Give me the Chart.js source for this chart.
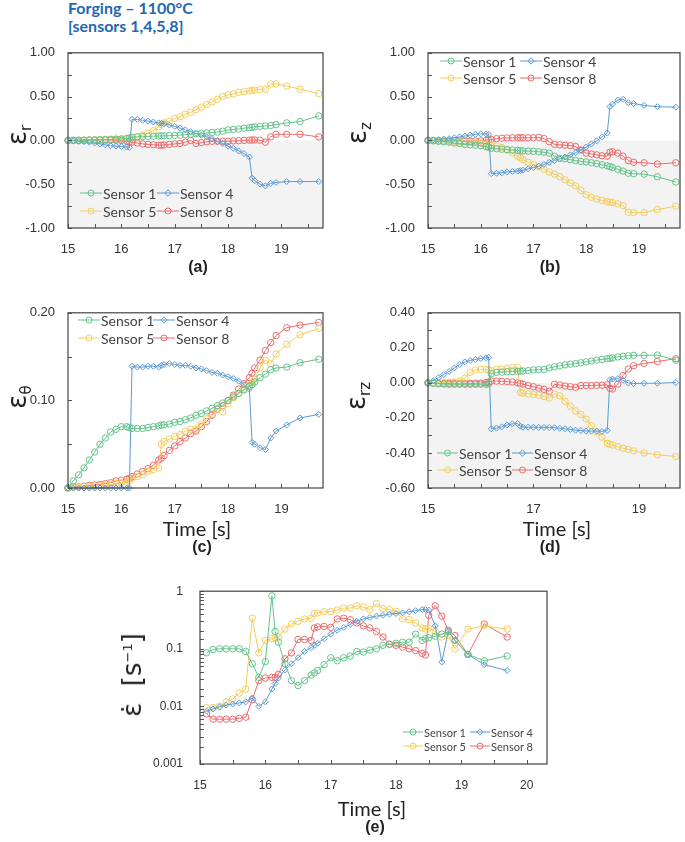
<!DOCTYPE html>
<html>
<head>
<meta charset="utf-8">
<script src="https://cdn.jsdelivr.net/npm/chart.js@4.4.1/dist/chart.umd.min.js"></script>
<style>
body { margin: 0; background: #fff; }
#fig { position: relative; width: 685px; height: 842px; overflow: hidden; font-family: Lato, sans-serif; color: #222; }
.box { position: absolute; }
.box canvas { display: block; }
.lbl { position: absolute; white-space: nowrap; transform: translate(-50%, -50%); }
.ytitle { position: absolute; white-space: nowrap; transform: translate(-50%, -50%) rotate(-90deg); font-size: 26px; font-family: "DejaVu Sans", sans-serif; }
.ytitle sub { font-size: 15px; vertical-align: -5px; }
.ytitle sup { font-size: 13px; vertical-align: 9px; }
.ptag { font: bold 16px "Liberation Sans", sans-serif; }
.time { font-size: 20px; }
.leg { position: absolute; white-space: nowrap; display: flex; align-items: center; color: #444; }
.leg svg { display: block; margin-right: 1px; }
#title { position: absolute; left: 68px; top: -1px; font: bold 16px Lato, sans-serif; line-height: 18px; color: #2468ad; }
</style>
</head>
<body>
<div id="fig">
  <div id="title">Forging – 1100°C<br>[sensors 1,4,5,8]</div>
</div>
<script>
// time stamps shared by every series [s]
const time = [15.0, 15.1, 15.2, 15.3, 15.4, 15.5, 15.6, 15.7, 15.8, 15.9,
  16.0, 16.1, 16.15, 16.2, 16.3, 16.4, 16.5, 16.6, 16.7, 16.75,
  16.8, 16.9, 17.0, 17.1, 17.2, 17.3, 17.4, 17.5, 17.6, 17.7,
  17.8, 17.9, 18.0, 18.1, 18.2, 18.3, 18.4, 18.45, 18.5, 18.6,
  18.7, 18.8, 18.9, 19.1, 19.35, 19.7];

const sensors = ['Sensor 1', 'Sensor 4', 'Sensor 5', 'Sensor 8'];

// (a) eps_r
const er1 = [0, 0.001, 0.002, 0.003, 0.004, 0.005, 0.007, 0.009, 0.011, 0.013,
  0.015, 0.02, 0.025, 0.035, 0.04, 0.043, 0.046, 0.048, 0.05, 0.051,
  0.052, 0.054, 0.057, 0.06, 0.065, 0.07, 0.075, 0.08, 0.085, 0.09,
  0.095, 0.105, 0.12, 0.125, 0.13, 0.14, 0.145, 0.15, 0.155, 0.16,
  0.165, 0.17, 0.18, 0.2, 0.215, 0.28];
const er4 = [0, -0.005, -0.01, -0.015, -0.02, -0.03, -0.04, -0.05, -0.06, -0.065,
  -0.07, -0.075, -0.08, 0.24, 0.24, 0.23, 0.22, 0.21, 0.2, 0.195,
  0.19, 0.175, 0.16, 0.14, 0.12, 0.1, 0.08, 0.06, 0.04, 0.02,
  -0.01, -0.035, -0.065, -0.09, -0.12, -0.15, -0.19, -0.43, -0.46, -0.5,
  -0.52, -0.49, -0.48, -0.47, -0.47, -0.47];
const er5 = [0, 0.001, 0.002, 0.003, 0.005, 0.007, 0.01, 0.012, 0.015, 0.018,
  0.02, 0.025, 0.028, 0.03, 0.04, 0.06, 0.08, 0.11, 0.155, 0.18,
  0.2, 0.22, 0.25, 0.27, 0.3, 0.32, 0.35, 0.38, 0.41, 0.44,
  0.47, 0.5, 0.52, 0.53, 0.55, 0.555, 0.565, 0.57, 0.575, 0.58,
  0.585, 0.645, 0.645, 0.62, 0.585, 0.535];
const er8 = [0, 0, -0.002, 0, 0.003, 0.005, 0.006, 0.005, 0.004, 0.002,
  0, -0.01, -0.015, -0.02, -0.03, -0.04, -0.045, -0.05, -0.055, -0.055,
  -0.052, -0.045, -0.04, -0.035, -0.02, 0, -0.035, -0.025, -0.015, -0.01,
  -0.01, -0.01, -0.01, -0.005, -0.003, 0, 0.003, 0.005, 0.005, 0.002,
  -0.02, 0.04, 0.07, 0.07, 0.07, 0.04];

// (b) eps_z
const ez1 = [0, -0.005, -0.01, -0.015, -0.02, -0.03, -0.035, -0.045, -0.05, -0.055,
  -0.06, -0.07, -0.08, -0.09, -0.095, -0.1, -0.105, -0.11, -0.115, -0.118,
  -0.12, -0.122, -0.125, -0.13, -0.135, -0.145, -0.18, -0.205, -0.21, -0.22,
  -0.23, -0.24, -0.245, -0.255, -0.265, -0.28, -0.29, -0.3, -0.31, -0.33,
  -0.35, -0.375, -0.38, -0.385, -0.415, -0.475];
const ez4 = [0, 0.005, 0.01, 0.015, 0.02, 0.03, 0.04, 0.05, 0.06, 0.07,
  0.075, 0.075, 0.07, -0.38, -0.375, -0.37, -0.36, -0.355, -0.35, -0.345,
  -0.34, -0.325, -0.31, -0.295, -0.275, -0.25, -0.23, -0.21, -0.19, -0.165,
  -0.14, -0.11, -0.075, -0.04, -0.005, 0.04, 0.085, 0.385, 0.415, 0.46,
  0.47, 0.43, 0.42, 0.4, 0.385, 0.38];
const ez5 = [0, -0.001, -0.002, -0.003, -0.005, -0.01, -0.012, -0.015, -0.02, -0.025,
  -0.03, -0.04, -0.05, -0.055, -0.065, -0.08, -0.11, -0.14, -0.18, -0.2,
  -0.22, -0.25, -0.275, -0.3, -0.33, -0.36, -0.385, -0.415, -0.45, -0.485,
  -0.52, -0.57, -0.62, -0.65, -0.67, -0.685, -0.7, -0.705, -0.71, -0.725,
  -0.745, -0.82, -0.825, -0.825, -0.79, -0.75];
const ez8 = [0, -0.002, -0.004, -0.005, -0.006, -0.006, -0.007, -0.008, -0.008, -0.006,
  -0.005, 0, 0.005, 0.01, 0.02, 0.025, 0.028, 0.03, 0.03, 0.03,
  0.03, 0.03, 0.03, 0.035, 0.02, -0.015, -0.045, -0.05, -0.055, -0.06,
  -0.07, -0.11, -0.145, -0.155, -0.165, -0.175, -0.18, -0.135, -0.13, -0.145,
  -0.18, -0.23, -0.25, -0.255, -0.27, -0.255];

// (c) eps_theta
const et1 = [0, 0.008, 0.015, 0.023, 0.032, 0.041, 0.05, 0.057, 0.064, 0.067,
  0.07, 0.07, 0.069, 0.068, 0.068, 0.068, 0.069, 0.07, 0.071, 0.072,
  0.072, 0.073, 0.075, 0.076, 0.078, 0.08, 0.083, 0.085, 0.088, 0.091,
  0.094, 0.097, 0.1, 0.104, 0.108, 0.112, 0.116, 0.118, 0.121, 0.126,
  0.13, 0.135, 0.137, 0.138, 0.143, 0.147];
const et4 = [0, 0, 0, 0, 0, 0, 0, 0, 0, 0,
  0, 0, 0, 0.139, 0.138, 0.138, 0.139, 0.139, 0.138, 0.14,
  0.141, 0.142, 0.141, 0.14, 0.14, 0.139, 0.137, 0.136, 0.134, 0.132,
  0.131, 0.129, 0.127, 0.125, 0.122, 0.118, 0.113, 0.052, 0.05, 0.046,
  0.044, 0.057, 0.065, 0.072, 0.08, 0.084];
const et5 = [0, 0.0005, 0.001, 0.0015, 0.002, 0.002, 0.003, 0.003, 0.004, 0.005,
  0.006, 0.007, 0.008, 0.011, 0.013, 0.015, 0.019, 0.021, 0.023, 0.05,
  0.053, 0.056, 0.059, 0.061, 0.065, 0.067, 0.067, 0.073, 0.079, 0.084,
  0.091, 0.087, 0.096, 0.103, 0.108, 0.113, 0.117, 0.12, 0.124, 0.137,
  0.146, 0.142, 0.153, 0.164, 0.175, 0.182];
const et8 = [0, 0.001, 0.0015, 0.002, 0.003, 0.0035, 0.004, 0.005, 0.006, 0.008,
  0.009, 0.01, 0.011, 0.013, 0.016, 0.019, 0.022, 0.026, 0.032, 0.034,
  0.037, 0.043, 0.048, 0.053, 0.057, 0.062, 0.065, 0.07, 0.076, 0.083,
  0.09, 0.094, 0.1, 0.106, 0.113, 0.119, 0.126, 0.131, 0.137, 0.146,
  0.157, 0.166, 0.174, 0.183, 0.186, 0.189];

// (d) eps_rz
const erz1 = [0, -0.003, -0.005, -0.007, -0.008, -0.008, -0.008, -0.008, -0.008, -0.008,
  -0.008, -0.008, -0.005, 0.052, 0.06, 0.061, 0.063, 0.064, 0.066, 0.067,
  0.068, 0.07, 0.074, 0.075, 0.077, 0.085, 0.092, 0.097, 0.103, 0.107,
  0.11, 0.115, 0.12, 0.125, 0.13, 0.134, 0.138, 0.14, 0.143, 0.148,
  0.152, 0.155, 0.157, 0.157, 0.159, 0.13];
const erz4 = [0, 0.012, 0.03, 0.048, 0.065, 0.085, 0.105, 0.12, 0.128, 0.134,
  0.139, 0.143, 0.146, -0.262, -0.258, -0.251, -0.24, -0.234, -0.232, -0.247,
  -0.253, -0.253, -0.253, -0.254, -0.254, -0.255, -0.256, -0.259, -0.262, -0.266,
  -0.27, -0.272, -0.275, -0.275, -0.275, -0.277, -0.271, 0.018, 0.022, 0.024,
  0.015, 0, -0.004, -0.002, -0.002, 0.002];
const erz5 = [0, 0.001, 0.002, 0.003, 0.004, 0.005, 0.01, 0.028, 0.06, 0.074,
  0.077, 0.077, 0.074, 0.07, 0.077, 0.079, 0.083, 0.087, 0.089, -0.055,
  -0.059, -0.063, -0.066, -0.07, -0.077, -0.087, -0.063, -0.074, -0.105, -0.133,
  -0.16, -0.18, -0.207, -0.244, -0.28, -0.31, -0.345, -0.35, -0.355, -0.364,
  -0.373, -0.38, -0.388, -0.4, -0.41, -0.42];
const erz8 = [0, -0.001, -0.002, -0.002, -0.002, -0.002, -0.002, -0.002, -0.002, -0.002,
  -0.001, 0.002, 0.005, 0.01, 0.01, 0.009, 0.007, 0.005, 0, -0.003,
  -0.007, -0.015, -0.022, -0.03, -0.037, -0.048, -0.008, -0.012, -0.018, -0.022,
  -0.026, -0.015, -0.015, -0.015, -0.014, -0.013, -0.011, -0.031, -0.035, -0.007,
  0.042, 0.079, 0.098, 0.111, 0.122, 0.138];

// (e) strain rate [1/s]
const rate1 = [null, 0.085, 0.097, 0.1, 0.1, 0.1, 0.1, 0.09, 0.055, 0.032,
  0.06, 0.83, 0.2, 0.13, 0.055, 0.028, 0.023, 0.028, 0.035, 0.038,
  0.042, 0.053, 0.07, 0.062, 0.07, 0.075, 0.09, 0.088, 0.095, 0.1,
  0.115, 0.12, 0.125, 0.13, 0.13, 0.18, 0.14, 0.15, 0.155, 0.165,
  0.18, 0.2, 0.14, 0.08, 0.062, 0.075];
const rate4 = [null, 0.0083, 0.009, 0.0098, 0.0105, 0.011, 0.0115, 0.012, 0.014, 0.01,
  0.012, 0.02, 0.025, 0.031, 0.043, 0.055, 0.07, 0.09, 0.105, 0.115,
  0.125, 0.15, 0.18, 0.21, 0.235, 0.265, 0.3, 0.33, 0.35, 0.37,
  0.38, 0.4, 0.41, 0.42, 0.44, 0.46, 0.48, 0.48, 0.47, 0.25,
  0.059, 0.2, 0.14, 0.08, 0.053, 0.042];
const rate5 = [null, 0.0095, 0.0095, 0.01, 0.012, 0.0135, 0.017, 0.02, 0.34, 0.085,
  0.14, 0.15, 0.155, 0.16, 0.22, 0.27, 0.3, 0.33, 0.34, 0.41,
  0.42, 0.44, 0.44, 0.47, 0.51, 0.51, 0.56, 0.53, 0.48, 0.61,
  0.5, 0.48, 0.45, 0.33, 0.32, 0.28, 0.23, 0.22, 0.23, 0.2,
  0.16, 0.17, 0.1, 0.22, 0.25, 0.22];
const rate8 = [null, 0.0074, 0.006, 0.006, 0.006, 0.006, 0.0062, 0.0065, 0.013, 0.028,
  0.031, 0.032, 0.032, 0.036, 0.067, 0.085, 0.145, 0.145, 0.14, 0.23,
  0.24, 0.245, 0.235, 0.33, 0.34, 0.32, 0.28, 0.25, 0.23, 0.2,
  0.16, 0.12, 0.115, 0.107, 0.1, 0.093, 0.083, 0.078, 0.38, 0.56,
  0.37, 0.21, 0.17, 0.08, 0.27, 0.16];

const colors = ['#63c48b', '#5b9bd5', '#f5cd5c', '#ee6b6b'];
const markers = ['circle', 'rectRot', 'circle', 'circle'];

const fig = document.getElementById('fig');

// shading below zero, frame and inward ticks
const frame = {
  id: 'frame',
  beforeDatasetsDraw(chart, args, o) {
    if (!o.shade) return;
    const { ctx, chartArea: a, scales } = chart;
    const y0 = scales.y.getPixelForValue(0);
    ctx.save();
    ctx.fillStyle = '#f3f3f3';
    ctx.fillRect(a.left, y0, a.right - a.left, a.bottom - y0);
    ctx.restore();
  },
  afterDraw(chart) {
    const { ctx, chartArea: a, scales } = chart;
    ctx.save();
    ctx.strokeStyle = '#555';
    ctx.lineWidth = 1;
    ctx.beginPath();
    scales.x.ticks.forEach(t => {
      const px = Math.round(scales.x.getPixelForValue(t.value)) + 0.5;
      ctx.moveTo(px, a.bottom); ctx.lineTo(px, a.bottom - 4);
    });
    scales.y.ticks.forEach(t => {
      const py = Math.round(scales.y.getPixelForValue(t.value)) + 0.5;
      ctx.moveTo(a.left, py); ctx.lineTo(a.left + 4, py);
    });
    ctx.stroke();
    ctx.strokeStyle = '#444';
    ctx.lineWidth = 1.2;
    ctx.strokeRect(a.left, a.top, a.right - a.left, a.bottom - a.top);
    ctx.restore();
  }
};

function series(arrs) {
  return arrs.map((a, k) => ({
    label: sensors[k],
    data: time.map((t, i) => ({ x: t, y: a[i] })),
    borderColor: colors[k],
    backgroundColor: colors[k],
    pointStyle: markers[k],
    pointRadius: k === 1 ? 3 : 3.2,
    pointBorderWidth: 1,
    pointBackgroundColor: 'rgba(255,255,255,0)',
    borderWidth: 1,
    tension: 0,
    clip: false
  }));
}

function panel(p) {
  const box = document.createElement('div');
  box.className = 'box';
  Object.assign(box.style, { left: p.left + 'px', top: p.top + 'px', width: p.w + 'px', height: p.h + 'px' });
  const cv = document.createElement('canvas');
  box.appendChild(cv);
  fig.appendChild(box);
  const tickFont = { family: 'Liberation Sans', size: p.fs || 13 };
  new Chart(cv, {
    type: 'line',
    data: { datasets: series(p.data) },
    options: {
      responsive: true,
      maintainAspectRatio: false,
      animation: false,
      devicePixelRatio: 1,
      layout: { padding: { top: p.pt, right: p.pr, left: 0, bottom: 0 } },
      plugins: { legend: { display: false }, tooltip: { enabled: false }, frame: { shade: p.shade } },
      scales: {
        x: {
          type: 'linear', min: 15, max: p.xmax,
          afterFit: s => { s.height = p.xh; },
          grid: { display: false }, border: { display: false },
          ticks: {
            stepSize: 0.5, includeBounds: false, autoSkip: false, maxRotation: 0,
            padding: 6, font: tickFont, color: '#333',
            callback: p.xlab
          }
        },
        y: Object.assign({
          afterFit: s => { s.width = p.yw; },
          grid: { display: false }, border: { display: false }
        }, p.y, {
          ticks: Object.assign({ autoSkip: false, padding: 5, font: tickFont, color: '#333' }, p.y.ticks)
        })
      }
    },
    plugins: [frame]
  });
}

const intLab = v => Number.isInteger(v) ? String(v) : '';
const oddLab = v => (Number.isInteger(v) && v % 2 === 1) ? String(v) : '';
const halfLab = v => Math.round(v * 100) % 50 === 0 ? v.toFixed(2) : '';

panel({ left: 0, top: 40, w: 330, h: 228, pt: 7, pr: 7, yw: 68, xh: 40, xmax: 19.78, shade: true,
  data: [er1, er4, er5, er8], xlab: intLab,
  y: { type: 'linear', min: -1, max: 1, ticks: { stepSize: 0.25, callback: halfLab } } });
panel({ left: 340, top: 40, w: 345, h: 228, pt: 7, pr: 2, yw: 88, xh: 40, xmax: 19.78, shade: true,
  data: [ez1, ez4, ez5, ez8], xlab: intLab,
  y: { type: 'linear', min: -1, max: 1, ticks: { stepSize: 0.25, callback: halfLab } } });
panel({ left: 0, top: 300, w: 330, h: 228, pt: 7, pr: 7, yw: 68, xh: 40, xmax: 19.78, shade: false,
  data: [et1, et4, et5, et8], xlab: intLab,
  y: { type: 'linear', min: 0, max: 0.2, ticks: { stepSize: 0.05, callback: v => Math.round(v * 100) % 10 === 0 ? v.toFixed(2) : '' } } });
panel({ left: 340, top: 300, w: 345, h: 228, pt: 8, pr: 2, yw: 88, xh: 40, xmax: 19.78, shade: true,
  data: [erz1, erz4, erz5, erz8], xlab: oddLab,
  y: { type: 'linear', min: -0.6, max: 0.4, ticks: { stepSize: 0.1, callback: v => Math.round(v * 10) % 2 === 0 ? v.toFixed(2) : '' } } });
panel({ left: 120, top: 575, w: 440, h: 229, pt: 8, pr: 13, yw: 80, xh: 40, xmax: 20.31, shade: false, fs: 12,
  data: [rate1, rate4, rate5, rate8], xlab: intLab,
  y: { type: 'logarithmic', min: 0.001, max: 1, ticks: { padding: 9, callback: v => {
    const l = Math.log10(v);
    return Math.abs(l - Math.round(l)) < 1e-6 ? String(Math.pow(10, Math.round(l))) : '';
  } } } });

// text labels
function label(cls, html, x, y) {
  const d = document.createElement('div');
  d.className = cls;
  d.innerHTML = html;
  d.style.left = x + 'px';
  d.style.top = y + 'px';
  fig.appendChild(d);
}
label('ytitle', 'ε<sub>r</sub>', 18, 135);
label('ytitle', 'ε<sub>z</sub>', 358, 133);
label('ytitle', 'ε<sub>θ</sub>', 18, 397);
label('ytitle', 'ε<sub>rz</sub>', 357, 396);
label('ytitle', 'ε̇ &nbsp;[s<sup>−1</sup>]', 132, 675);
label('lbl time', 'Time [s]', 197, 528);
label('lbl time', 'Time [s]', 557, 528);
label('lbl time', 'Time [s]', 372, 808);
label('lbl ptag', '(a)', 198, 267);
label('lbl ptag', '(b)', 550, 267);
label('lbl ptag', '(c)', 202, 547);
label('lbl ptag', '(d)', 550, 547);
label('lbl ptag', '(e)', 375, 827);

// legends: icon start columns, row centres, icon width, font size
const legends = [
  { x: [80, 157], y: [193, 211], w: 22, fs: 14 },
  { x: [440, 520], y: [61, 78], w: 22, fs: 14 },
  { x: [78, 153], y: [320, 338], w: 22, fs: 14 },
  { x: [437, 512], y: [453, 470], w: 21, fs: 14 },
  { x: [403, 470], y: [732, 746], w: 20, fs: 11 }
];
legends.forEach(L => {
  sensors.forEach((name, k) => {
    const col = k % 2, row = Math.floor(k / 2);
    const c = colors[k], m = L.w / 2;
    const mark = markers[k] === 'circle'
      ? `<circle cx="${m}" cy="6" r="3" fill="none" stroke="${c}" stroke-width="1"/>`
      : `<path d="M${m} 2.8 L${m + 3.2} 6 L${m} 9.2 L${m - 3.2} 6 Z" fill="none" stroke="${c}" stroke-width="1"/>`;
    const d = document.createElement('div');
    d.className = 'leg';
    d.style.left = L.x[col] + 'px';
    d.style.top = (L.y[row] - 7) + 'px';
    d.style.height = '14px';
    d.style.fontSize = L.fs + 'px';
    d.innerHTML = `<svg width="${L.w}" height="12"><line x1="0" y1="6" x2="${L.w}" y2="6" stroke="${c}" stroke-width="1"/>${mark}</svg><span>${name}</span>`;
    fig.appendChild(d);
  });
});
</script>
</body>
</html>
